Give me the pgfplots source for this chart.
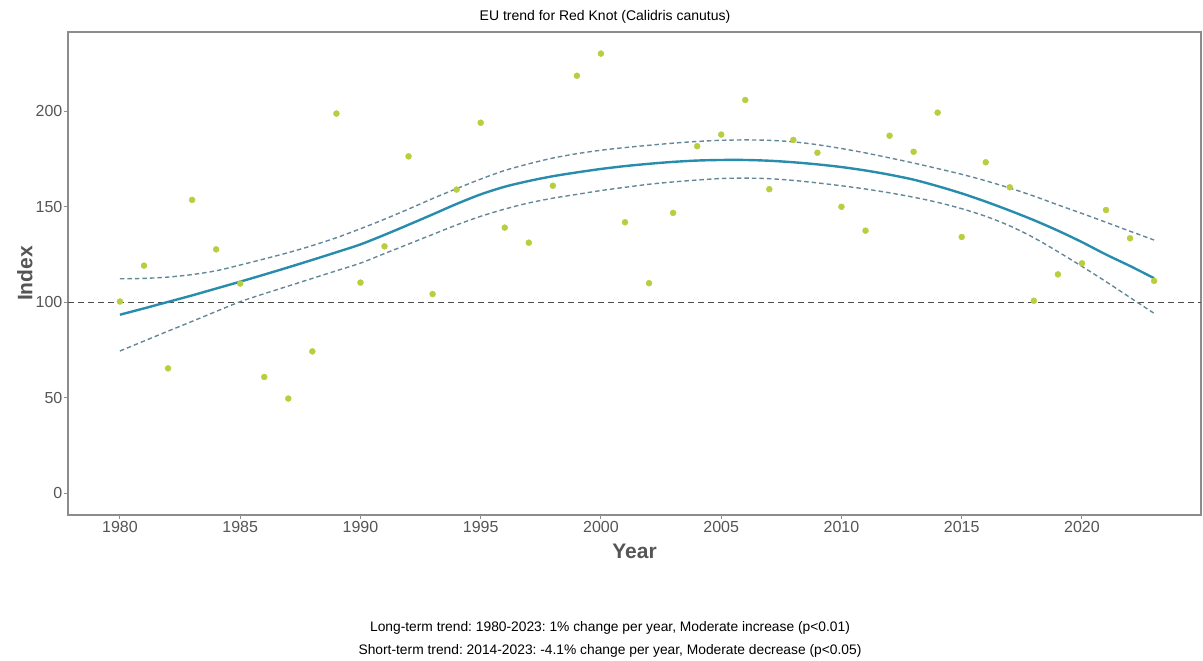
\documentclass[border=0pt]{standalone}
\usepackage{fontspec}
\setmainfont{Liberation Sans}
\usepackage{pgfplots}
\usepackage{pgfplotstable}
\pgfplotsset{compat=1.18}
\frenchspacing

\definecolor{pointcol}{RGB}{184,206,62}
\definecolor{trendcol}{RGB}{40,140,172}
\definecolor{cicol}{RGB}{100,136,152}
\definecolor{axiscol}{RGB}{140,140,140}
\definecolor{labcol}{RGB}{85,85,85}

% Annual index values
\pgfplotstableread{
year index
1980 100.4
1981 119.2
1982 65.4
1983 153.6
1984 127.7
1985 109.8
1986 60.9
1987 49.6
1988 74.3
1989 198.8
1990 110.3
1991 129.3
1992 176.4
1993 104.3
1994 159.0
1995 194.0
1996 139.1
1997 131.2
1998 161.0
1999 218.6
2000 230.2
2001 141.9
2002 110.0
2003 146.8
2004 181.7
2005 187.8
2006 205.9
2007 159.2
2008 185.0
2009 178.3
2010 150.0
2011 137.5
2012 187.2
2013 178.8
2014 199.3
2015 134.2
2016 173.3
2017 160.2
2018 100.8
2019 114.6
2020 120.4
2021 148.3
2022 133.5
2023 111.2
}\indexdata

% Smoothed trend with lower and upper confidence limits
\pgfplotstableread{
year trend lower upper
1980 93.5 74.5 112.3
1981 96.8 79.7 112.5
1982 100.2 84.9 113.2
1983 103.6 90.0 114.5
1984 107.2 95.2 116.5
1985 110.8 100.3 119.5
1986 114.5 104.5 122.7
1987 118.3 108.5 126.0
1988 122.2 112.5 129.7
1989 126.2 116.5 133.8
1990 130.3 120.5 138.5
1991 135.3 125.5 143.5
1992 140.6 130.5 148.8
1993 146.0 135.5 154.3
1994 151.5 140.5 159.5
1995 156.5 145.0 164.5
1996 160.5 148.8 169.0
1997 163.5 152.0 172.5
1998 166.0 154.5 175.5
1999 168.0 156.5 177.8
2000 169.8 158.5 179.6
2001 171.3 160.2 181.0
2002 172.5 161.8 182.2
2003 173.5 163.0 183.3
2004 174.2 164.0 184.2
2005 174.5 164.8 184.8
2006 174.5 165.0 185.0
2007 174.1 164.7 184.8
2008 173.3 163.8 184.0
2009 172.2 162.5 182.5
2010 170.8 161.0 180.5
2011 169.0 159.3 178.2
2012 166.8 157.3 175.6
2013 164.2 155.0 172.9
2014 160.8 152.3 170.0
2015 157.0 149.0 167.0
2016 152.7 145.0 163.6
2017 148.0 140.0 159.8
2018 143.0 133.8 155.6
2019 137.5 126.5 151.0
2020 131.5 118.8 146.5
2021 125.0 110.8 141.9
2022 119.0 102.5 137.2
2023 112.6 94.2 132.6
}\trenddata

\begin{document}
\begin{tikzpicture}[x=1pt,y=1pt]
\useasboundingbox (0,0) rectangle (1203,-661);
\begin{axis}[
  at={(68pt,-32pt)}, anchor=north west,
  scale only axis, width=1133pt, height=483pt,
  xmin=1977.84, xmax=2024.95, ymin=-11.36, ymax=241.5,
  axis line style={axiscol, line width=1.2pt},
  xtick={1980,1985,...,2020},
  ytick={0,50,...,200},
  tick align=outside,
  major tick length=4pt,
  tick style={axiscol, line width=1pt},
  xtick pos=bottom, ytick pos=left,
  /pgf/number format/assume math mode=true,
  /pgf/number format/1000 sep={},
  tick label style={font=\fontsize{16}{18}\selectfont, text=labcol},
  xticklabel style={inner sep=1pt, yshift=-1pt},
  yticklabel style={inner sep=1.5pt},
  xlabel={Year},
  ylabel={Index},
  label style={font=\fontsize{21}{24}\selectfont\bfseries, text=labcol},
  xlabel style={at={(axis description cs:0.5,0)}, anchor=center, yshift=-36pt},
  ylabel style={at={(axis description cs:-0.038,0.5)}, anchor=center},
  clip=false,
]
% reference level
\addplot[dash pattern=on 6pt off 4pt, color=black!70, line width=1.4pt]
  coordinates {(1977.84,100) (2024.95,100)};
% yearly indices
\addplot[only marks, mark=*, mark size=3pt, color=pointcol] table[x=year, y=index] {\indexdata};
% confidence limits
\addplot[cicol, dash pattern=on 4.5pt off 3pt, line width=1.4pt, smooth] table[x=year, y=lower] {\trenddata};
\addplot[cicol, dash pattern=on 4.5pt off 3pt, line width=1.4pt, smooth] table[x=year, y=upper] {\trenddata};
% trend
\addplot[trendcol, line width=2.4pt, smooth] table[x=year, y=trend] {\trenddata};
\end{axis}
\node[font=\fontsize{14}{16}\selectfont] at (605,-17) {EU trend for Red Knot (Calidris canutus)};
\node[font=\fontsize{13.8}{16}\selectfont] at (610,-628) {Long-term trend: 1980-2023: 1\% change per year, Moderate increase (p<0.01)};
\node[font=\fontsize{13.8}{16}\selectfont] at (610,-651) {Short-term trend: 2014-2023: -4.1\% change per year, Moderate decrease (p<0.05)};
\end{tikzpicture}
\end{document}
